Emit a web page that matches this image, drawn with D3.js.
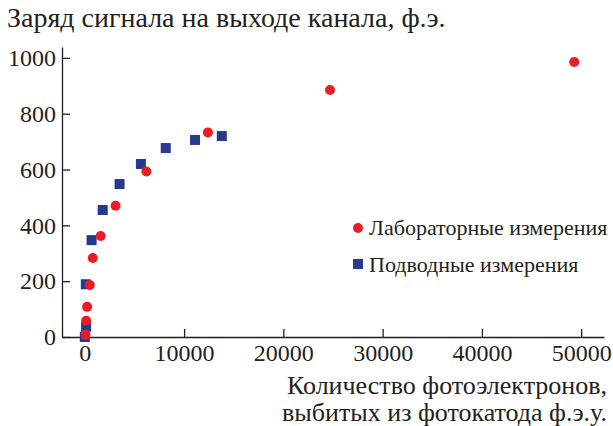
<!DOCTYPE html>
<html>
<head>
<meta charset="utf-8">
<script src="https://cdn.jsdelivr.net/npm/d3@7"></script>
</head>
<body style="margin:0">
<script>
// data
var labX = [70, 130, 230, 500, 800, 1600, 3100, 6200, 12400, 24700, 49300];
var labY = [8, 58, 108, 186, 283, 362, 470, 593, 733, 885, 985];
var seaX = [0, 130, 100, 680, 1800, 3500, 5650, 8150, 11100, 13800];
var seaY = [0, 37, 189, 347, 455, 548, 620, 677, 706, 720];
var xTicks = [0, 10000, 20000, 30000, 40000, 50000];
var yTicks = [0, 200, 400, 600, 800, 1000];
var seriesNames = ['Лабораторные измерения', 'Подводные измерения'];

var width = 613, height = 426;
var red = '#ea1c24', blue = '#263a8f', ink = '#231f20';
var fontFam = '"Times New Roman", "Liberation Serif", Tinos';

var svg = d3.select('body').append('svg').attr('width', width).attr('height', height);

// scales: the axis lines run a bit past the first/last tick
var x = d3.scaleLinear().domain([-2300, 52300]).range([62, 604]);
var y = d3.scaleLinear().domain([0, 1039]).range([337, 47]);

// x axis, ticks pointing up
var xAxis = d3.axisBottom(x).tickValues(xTicks).tickFormat(d3.format('d'))
  .tickSizeInner(-8).tickSizeOuter(0).tickPadding(7);
svg.append('g').attr('class', 'axis').attr('transform', 'translate(0,' + y(0) + ')').call(xAxis);

// y axis, ticks pointing right
var yAxis = d3.axisLeft(y).tickValues(yTicks).tickFormat(d3.format('d'))
  .tickSizeInner(-8).tickSizeOuter(0).tickPadding(6);
svg.append('g').attr('class', 'axis').attr('transform', 'translate(' + x(-2300) + ',0)').call(yAxis);

svg.selectAll('.axis').attr('font-family', null).attr('font-size', null);
svg.selectAll('.axis path, .axis line').style('stroke', ink).style('stroke-width', 1.3);
svg.selectAll('.axis text').style('font-family', fontFam).style('font-size', '24px').style('fill', ink);

// titles
function label(xp, yp, anchor, size, txt) {
  svg.append('text').attr('x', xp).attr('y', yp).attr('text-anchor', anchor)
    .style('font-family', fontFam).style('font-size', size).style('fill', ink).text(txt);
}
label(7, 27, 'start', '28px', 'Заряд сигнала на выходе канала, ф.э.');
label(607, 394, 'end', '26px', 'Количество фотоэлектронов,');
label(607, 421, 'end', '26px', 'выбитых из фотокатода ф.э.у.');

// underwater measurements (squares)
var sea = seaX.map(function (d, i) { return [d, seaY[i]]; });
svg.append('g').selectAll('rect').data(sea).enter().append('rect')
  .attr('x', function (d) { return x(d[0]) - 5; })
  .attr('y', function (d) { return y(d[1]) - 5; })
  .attr('width', 10).attr('height', 10)
  .style('fill', blue);

// lab measurements (circles), drawn on top
var lab = labX.map(function (d, i) { return [d, labY[i]]; });
svg.append('g').selectAll('circle').data(lab).enter().append('circle')
  .attr('cx', function (d) { return x(d[0]); })
  .attr('cy', function (d) { return y(d[1]); })
  .attr('r', 5)
  .style('fill', red);

// legend
var legend = svg.append('g');
legend.append('circle').attr('cx', 358).attr('cy', 228).attr('r', 5).style('fill', red);
label(369, 235, 'start', '22px', seriesNames[0]);
legend.append('rect').attr('x', 353).attr('y', 259).attr('width', 10).attr('height', 10).style('fill', blue);
label(369, 272, 'start', '22px', seriesNames[1]);
</script>
</body>
</html>
